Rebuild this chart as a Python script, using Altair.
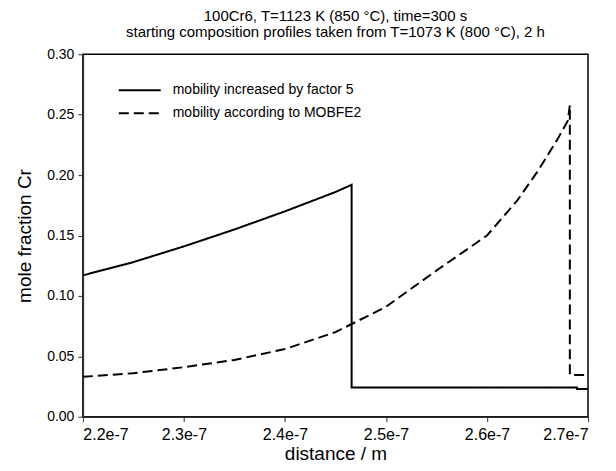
import altair as alt
import pandas as pd

# distance in units of 1e-7 m
solid_x = [2.20, 2.25, 2.30, 2.35, 2.40, 2.45, 2.466, 2.466, 2.689, 2.689, 2.70]
solid_y = [0.117, 0.128, 0.141, 0.155, 0.170, 0.186, 0.192, 0.0242, 0.0242, 0.0229, 0.0229]

dashed_x = [2.20, 2.25, 2.30, 2.35, 2.40, 2.45, 2.50, 2.55, 2.60, 2.63, 2.65, 2.67, 2.68, 2.682, 2.682, 2.70]
dashed_y = [0.033, 0.036, 0.041, 0.047, 0.056, 0.070, 0.091, 0.121, 0.150, 0.179, 0.203, 0.230, 0.245, 0.258, 0.0345, 0.0345]

series = ["mobility increased by factor 5", "mobility according to MOBFE2"]

rows = []
for i, (x, y) in enumerate(zip(solid_x, solid_y)):
    rows.append({"distance": x * 1e-7, "cr": y, "series": series[0], "order": i})
for i, (x, y) in enumerate(zip(dashed_x, dashed_y)):
    rows.append({"distance": x * 1e-7, "cr": y, "series": series[1], "order": i})
df = pd.DataFrame(rows)

FONT = "Liberation Sans"

chart = alt.Chart(df).mark_line(strokeWidth=2, color="black").encode(
    x=alt.X("distance:Q", scale=alt.Scale(domain=[2.2e-7, 2.7e-7], nice=False, zero=False),
            axis=alt.Axis(title="distance / m", values=[2.2e-7, 2.3e-7, 2.4e-7, 2.5e-7, 2.6e-7, 2.7e-7],
                          labelExpr="format(datum.value*1e7, '.1f') + 'e-7'",
                          labelFontSize=16, labelPadding=5, titlePadding=2)),
    y=alt.Y("cr:Q", scale=alt.Scale(domain=[0, 0.3], nice=False),
            axis=alt.Axis(title="mole fraction Cr", values=[0, 0.05, 0.1, 0.15, 0.2, 0.25, 0.3], format=".2f",
                          labelFontSize=14, labelPadding=4, titlePadding=12)),
    strokeDash=alt.StrokeDash("series:N", scale=alt.Scale(domain=series, range=[[1, 0], [10, 5]]),
                              legend=alt.Legend(title=None, orient="none", legendX=49, legendY=28,
                                                symbolType="M-3,0H3", symbolSize=196, symbolStrokeWidth=2,
                                                symbolStrokeColor="black", labelFont=FONT, labelFontSize=14,
                                                labelColor="black", labelOffset=25, labelLimit=0,
                                                padding=0, rowPadding=8)),
    order="order:Q",
).properties(
    width=506, height=363,
    title=alt.TitleParams(["100Cr6, T=1123 K (850 °C), time=300 s",
                           "starting composition profiles taken from T=1073 K (800 °C), 2 h"],
                          font=FONT, fontSize=15, fontWeight="normal", color="black", anchor="middle",
                          offset=7, lineHeight=16),
    autosize=alt.AutoSizeParams(type="none"),
    padding={"left": 75, "top": 46, "right": 20, "bottom": 50},
).configure_view(
    stroke="black", strokeWidth=1.5
).configure_axis(
    labelFont=FONT, labelColor="black",
    titleFont=FONT, titleFontSize=19, titleFontWeight="normal", titleColor="black",
    domainColor="#333", domainWidth=1.5, tickColor="#333", tickWidth=1, tickSize=5,
    grid=False,
)

chart.save("out.html", embed_options={"renderer": "svg", "actions": False})
